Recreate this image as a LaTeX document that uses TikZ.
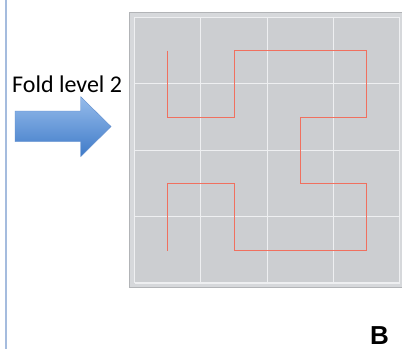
\documentclass[tikz,border=0pt]{standalone}
\usepackage{fontspec}
\newfontfamily\labelfont{Carlito}
\newfontfamily\panelfont{Liberation Sans}

\definecolor{sidebar}{RGB}{165,188,222}
\definecolor{panelgray}{RGB}{204,206,209}
\definecolor{panelrim}{RGB}{178,180,183}
\definecolor{panelband}{RGB}{214,216,219}
\definecolor{gridline}{RGB}{238,239,241}
\definecolor{curvered}{RGB}{240,112,95}
\definecolor{arrowtop}{RGB}{150,188,235}
\definecolor{arrowbot}{RGB}{62,122,200}
\definecolor{arrowrim}{RGB}{95,140,205}

\tikzset{
  caption/.style={inner sep=0pt, anchor=base west},
  gridrule/.style={draw=gridline, line width=1.1pt},
  foldpath/.style={draw=curvered, line width=1.7pt, line join=miter, line cap=butt},
}

\begin{document}
\begin{tikzpicture}[x=1pt, y=-1pt]
  \useasboundingbox (0,0) rectangle (402,349);
  \fill[white] (0,0) rectangle (402,349);

  % thin rule along the left edge
  \draw[sidebar, line width=1.6pt] (6,0) -- (6,349);

  % caption and arrow
  \node[caption, font=\labelfont\fontsize{24}{28}\selectfont] (title) at (12,92.7) {Fold level 2};
  \shade[top color=arrowtop, bottom color=arrowbot, draw=arrowrim, line width=0.4pt]
    (15,111) -- (80.7,111) -- (80.7,96.7) -- (111,126.5) -- (80.7,156.7)
    -- (80.7,141.7) -- (15,141.7) -- cycle;

  % panel frame
  \fill[panelband, draw=panelrim, line width=1pt] (129.5,12.5) rectangle (405,287);
  \fill[panelgray] (134.5,17) rectangle (399.5,283);

  % 4x4 grid
  \foreach \x in {134.5,200.5,267.5,333.5,399.5}
    \draw[gridrule] (\x,17) -- (\x,283);
  \foreach \y in {17.5,83.5,150.5,216.5,283}
    \draw[gridrule] (134.5,\y) -- (399.5,\y);

  % fold curve through the cell centres
  \draw[foldpath]
    (167.5,50.5) -- (167.5,117.5) -- (234.5,117.5) -- (234.5,50.5) -- (366.5,50.5)
    -- (366.5,117.5) -- (300.5,117.5) -- (300.5,183.5) -- (366.5,183.5) -- (366.5,250.5)
    -- (234.5,250.5) -- (234.5,183.5) -- (167.5,183.5) -- (167.5,250.5);

  % panel letter
  \node[caption, font=\panelfont\bfseries\fontsize{26}{30}\selectfont] (letter) at (369.8,344.5) {B};
\end{tikzpicture}
\end{document}
